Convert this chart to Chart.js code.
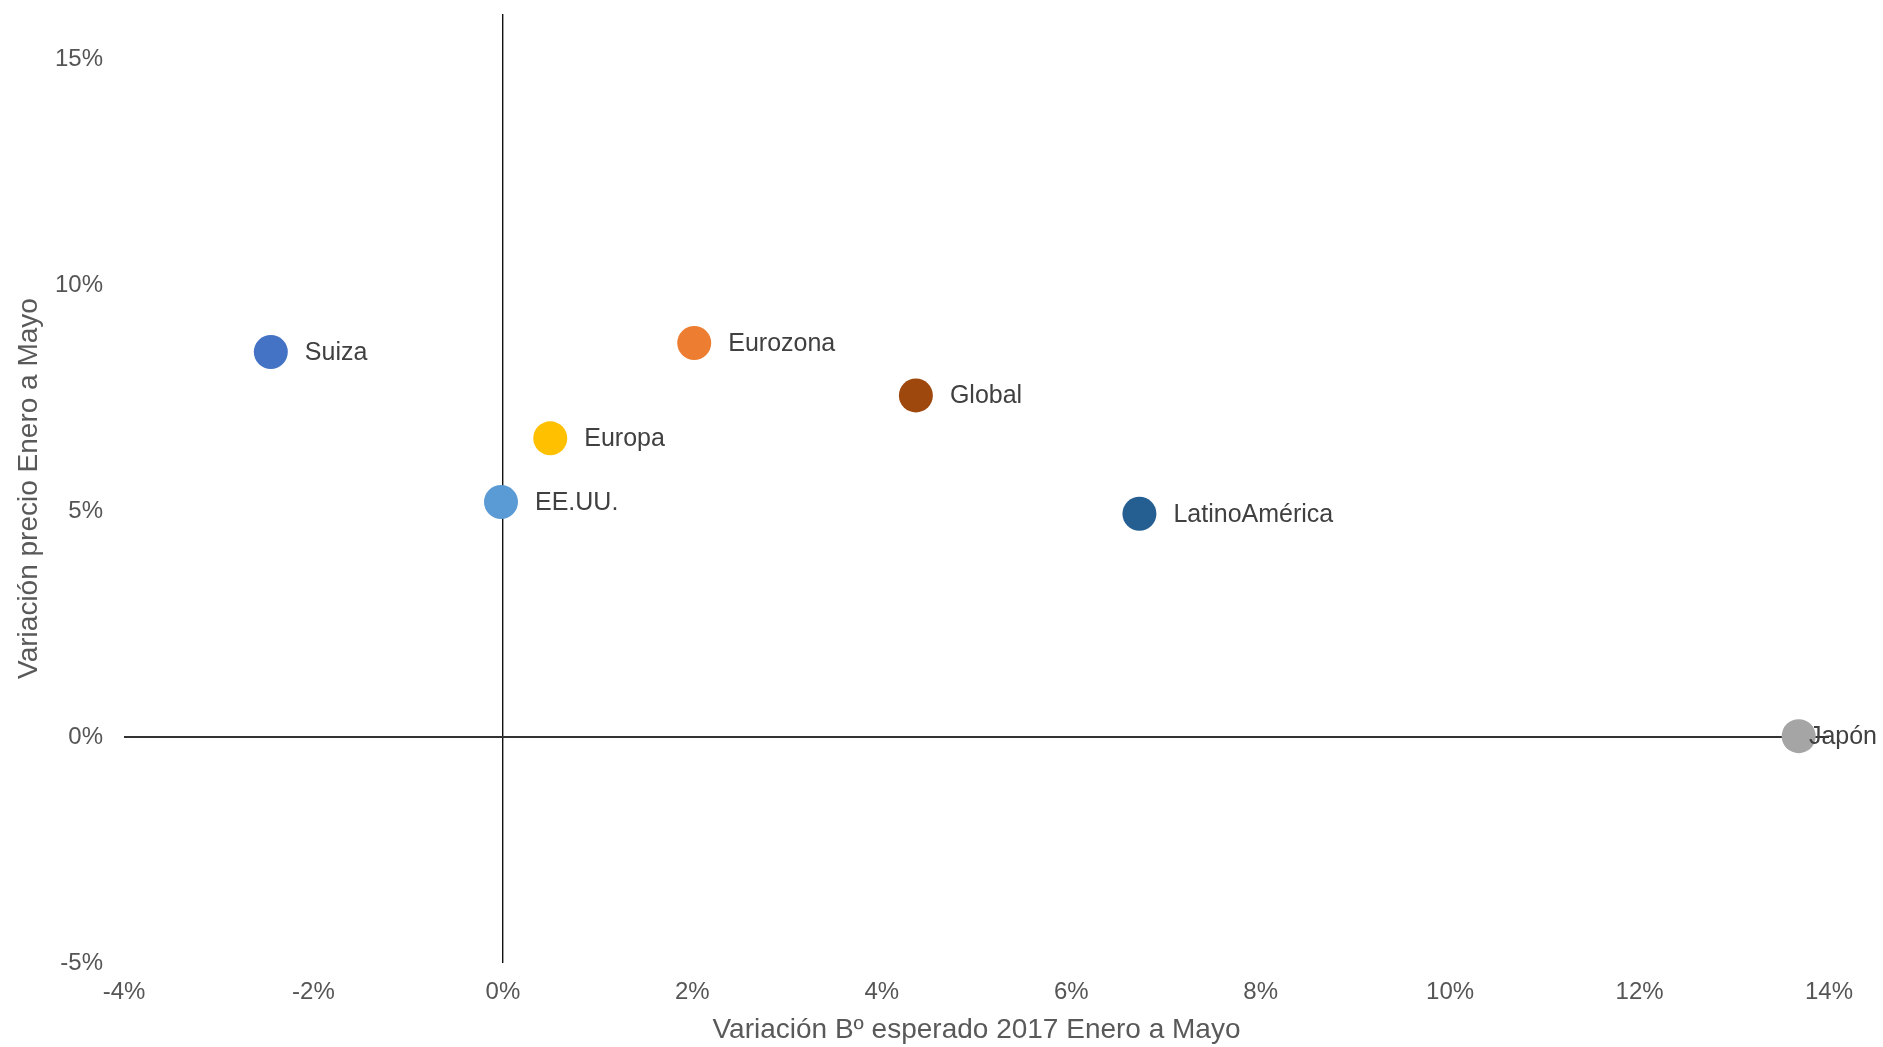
<!DOCTYPE html>
<html>
<head>
<meta charset="utf-8">
<script src="https://cdn.jsdelivr.net/npm/chart.js@4"></script>
<style>
  html, body { margin: 0; padding: 0; background: #fff; }
  #wrap { width: 1883px; height: 1047px; position: relative; }
</style>
</head>
<body>
<div id="wrap"><canvas id="c"></canvas></div>
<script>
const names = ["Suiza", "Eurozona", "Global", "Europa", "EE.UU.", "LatinoAmérica", "Japón"];
const xValues = [-2.45, 2.02, 4.36, 0.5, -0.02, 6.72, 13.68];
const yValues = [8.52, 8.72, 7.56, 6.61, 5.20, 4.94, 0.02];
const colors = ["#4472C4", "#ED7D31", "#9E480E", "#FFC000", "#5B9BD5", "#255E91", "#A5A5A5"];
const yTickValues = [-5, 0, 5, 10, 15];
const xTitle = "Variación Bº esperado 2017 Enero a Mayo";
const yTitle = "Variación precio Enero a Mayo";

const FONT = "'Liberation Sans', Arial, sans-serif";

const datasets = names.map((n, i) => ({
  label: n,
  data: [{ x: xValues[i], y: yValues[i] }],
  backgroundColor: colors[i],
  borderColor: colors[i],
  borderWidth: 0,
  pointRadius: 17,
  pointHoverRadius: 17
}));

const labelPlugin = {
  id: 'pointLabels',
  afterDatasetsDraw(chart) {
    const ctx = chart.ctx;
    ctx.save();
    ctx.font = "25px " + FONT;
    ctx.fillStyle = "#404040";
    ctx.textBaseline = "middle";
    ctx.textAlign = "left";
    chart.data.datasets.forEach((ds, i) => {
      const meta = chart.getDatasetMeta(i);
      const pt = meta.data[0];
      let x = pt.x + 34;
      const w = ctx.measureText(ds.label).width;
      if (x + w > chart.width - 6) x = chart.width - 6 - w;
      ctx.fillText(ds.label, x, pt.y + 1);
    });
    ctx.restore();
  }
};

new Chart(document.getElementById('c'), {
  type: 'scatter',
  data: { datasets },
  plugins: [labelPlugin],
  options: {
    responsive: true,
    maintainAspectRatio: false,
    animation: false,
    layout: { autoPadding: false, padding: { top: 14, right: 54, left: 0, bottom: 0 } },
    plugins: { legend: { display: false }, tooltip: { enabled: false } },
    scales: {
      x: {
        type: 'linear',
        min: -4, max: 14,
        afterFit(scale) { scale.height = 84; },
        border: { display: false },
        grid: {
          drawTicks: false,
          color: c => c.tick && c.tick.value === 0 ? '#111' : 'rgba(0,0,0,0)',
          lineWidth: 1.4
        },
        ticks: {
          stepSize: 2,
          padding: 15,
          color: '#555',
          font: { family: FONT, size: 24 },
          callback: v => v + '%'
        },
        title: {
          display: true,
          text: xTitle,
          color: '#595959',
          font: { family: FONT, size: 28 },
          padding: { top: 5, bottom: 0 }
        }
      },
      y: {
        type: 'linear',
        min: -5, max: 16,
        afterFit(scale) { scale.width = 124; scale.paddingTop = 0; scale.paddingBottom = 0; },
        afterBuildTicks(scale) { scale.ticks = yTickValues.map(v => ({ value: v })); },
        border: { display: false },
        grid: {
          drawTicks: false,
          color: c => c.tick && c.tick.value === 0 ? '#333' : 'rgba(0,0,0,0)',
          lineWidth: 2
        },
        ticks: {
          padding: 21,
          color: '#555',
          font: { family: FONT, size: 24 },
          callback: v => v + '%'
        },
        title: {
          display: true,
          text: yTitle,
          color: '#595959',
          font: { family: FONT, size: 28 },
          padding: { top: 12, bottom: 0 }
        }
      }
    }
  }
});
</script>
</body>
</html>
